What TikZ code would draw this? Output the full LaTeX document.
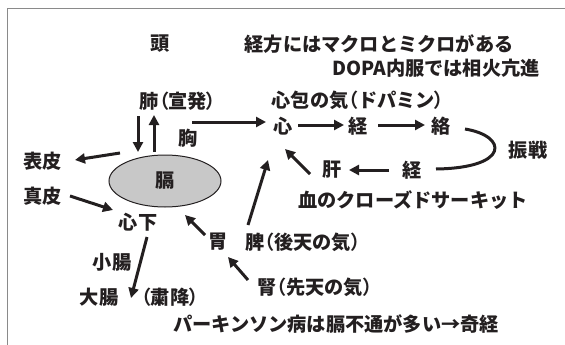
\documentclass[tikz,border=0pt]{standalone}
\usepackage{fontspec}
\setmainfont{Noto Sans CJK JP}[BoldFont={Noto Sans CJK JP Black}]
\newfontfamily\paltfont{Noto Sans CJK JP Black}[RawFeature=+palt]
\newcommand\lpar{{\paltfont （}}
\newcommand\rpar{{\paltfont ）}}
\usetikzlibrary{arrows.meta,shapes.geometric}
\definecolor{ink}{HTML}{231F20}
\definecolor{frame}{HTML}{8A8A8A}
\definecolor{kakufill}{HTML}{C8C8C8}
\tikzset{
  lbl/.style={inner sep=0pt, text=ink, font=\fontsize{19.2}{21}\selectfont\bfseries},
  arr/.style={draw=ink, line width=3pt, -{Triangle[length=10pt,width=10pt]}},
  curv/.style={draw=ink, line width=3pt},
}
\begin{document}
\begin{tikzpicture}[x=1pt,y=-1pt]
\useasboundingbox (0,0) rectangle (565,345);
\draw[frame, line width=1.3pt] (7.5,345) -- (7.5,8.5) -- (565,8.5);

\node[lbl] (tou) at (160,44) {頭};
\node[lbl] (keiho) at (379,44) {経方にはマクロとミクロがある};
\node[lbl] (dopa) at (436,68) {DOPA内服では相火亢進};
\node[lbl] (hai) at (178,101) {肺\lpar 宣発\rpar};
\node[lbl] (shinpo) at (358,100) {心包の気\lpar ドパミン\rpar};
\node[lbl] (shin) at (283,126) {心};
\node[lbl] (kei1) at (358,126) {経};
\node[lbl] (raku) at (441,126) {絡};
\node[lbl] (kyo) at (188,138) {胸};
\node[ellipse, draw=ink, line width=1pt, fill=kakufill, minimum width=112pt, minimum height=52pt, inner sep=0pt, text=ink, font=\fontsize{19.2}{21}\selectfont\bfseries] (kaku) at (165,181) {膈};
\node[lbl] (hyohi) at (43,161) {表皮};
\node[lbl] (shinpi) at (43,196) {真皮};
\node[lbl] (shinka) at (138,222) {心下};
\node[lbl] (shocho) at (112,262) {小腸};
\node[lbl] (daicho) at (99,297) {大腸};
\node[lbl] (shukou) at (170,297) {\lpar 粛降\rpar};
\node[lbl] (i) at (218,242) {胃};
\node[lbl] (hi) at (303,242) {脾\lpar 後天の気\rpar};
\node[lbl] (kan) at (332,170) {肝};
\node[lbl] (kei2) at (412,170) {経};
\node[lbl] (shinsen) at (528,150) {振戦};
\node[lbl] (ketsu) at (413,200) {血のクローズドサーキット};
\node[lbl] (jin) at (315,287) {腎\lpar 先天の気\rpar};
\node[lbl] (park) at (336,324) {パーキンソン病は膈不通が多い→奇経};

% arrow end points
\coordinate (dnA) at (138,116); \coordinate (dnB) at (138,152);
\coordinate (upA) at (154,152); \coordinate (upB) at (154,115);
\coordinate (kyoA) at (192,122); \coordinate (kyoB) at (266,122);
\coordinate (s1A) at (298,125); \coordinate (s1B) at (344,125);
\coordinate (s2A) at (378,125); \coordinate (s2B) at (425,125);
\coordinate (cvA) at (465,129); \coordinate (cvB) at (436,169);
\coordinate (kkA) at (389,170); \coordinate (kkB) at (349,170);
\coordinate (ksA) at (310,174); \coordinate (ksB) at (285,149);
\coordinate (hsA) at (248,225); \coordinate (hsB) at (268,160);
\coordinate (igA) at (205,235); \coordinate (igB) at (185,215);
\coordinate (jiA) at (248,280); \coordinate (jiB) at (228,257);
\coordinate (sdA) at (147,237); \coordinate (sdB) at (131,298);
\coordinate (spA) at (70,196); \coordinate (spB) at (113,210);
\coordinate (hyA) at (120,153); \coordinate (hyB) at (75,160);

\draw[arr] (dnA) -- (dnB);
\draw[arr] (upA) -- (upB);
\draw[arr] (kyoA) -- (kyoB);
\draw[arr] (s1A) -- (s1B);
\draw[arr] (s2A) -- (s2B);
\draw[curv] (cvA) .. controls (508,136) and (510,168) .. (cvB);
\draw[arr] (kkA) -- (kkB);
\draw[arr] (ksA) -- (ksB);
\draw[arr] (hsA) -- (hsB);
\draw[arr] (igA) -- (igB);
\draw[arr] (jiA) -- (jiB);
\draw[arr] (sdA) -- (sdB);
\draw[arr] (spA) -- (spB);
\draw[arr] (hyA) -- (hyB);
\end{tikzpicture}
\end{document}
